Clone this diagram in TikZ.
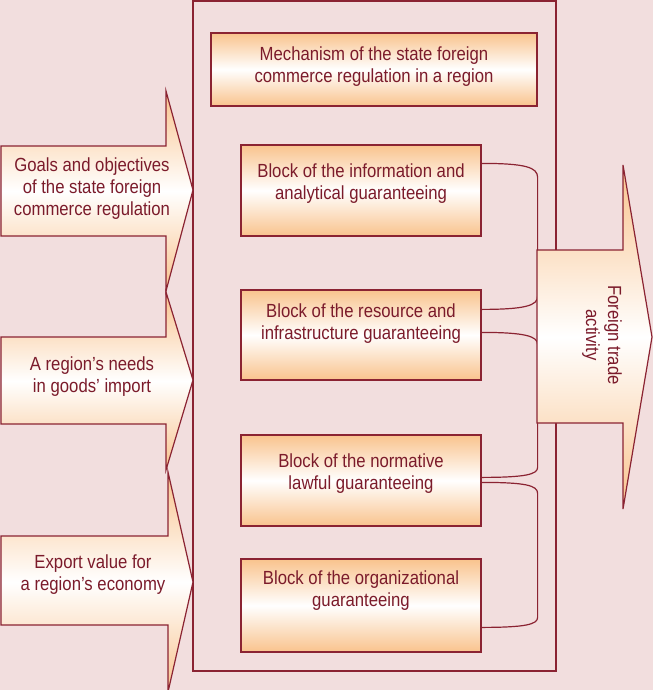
\documentclass[tikz,border=0pt]{standalone}
\usepackage{fontspec}
\setmainfont{Liberation Sans}[FakeStretch=0.88]
\definecolor{bg}{HTML}{F2DEDE}
\definecolor{ln}{HTML}{8B2332}
\definecolor{tx}{HTML}{7B1B2B}
\definecolor{orng}{HTML}{F9C38D}
\tikzset{
  lbl/.style={text=tx, align=center, inner sep=0, font=\fontsize{19}{22}\selectfont},
  blockbox/.style={draw=ln, line width=1.2pt, inner sep=0, minimum width=240, top color=orng, bottom color=orng, middle color=white},
  arrowshape/.style={draw=ln, line width=1.2pt, line join=miter, top color=orng, bottom color=orng, middle color=white},
  conn/.style={draw=ln, line width=1.2pt},
}
\begin{document}
\begin{tikzpicture}[x=1pt,y=-1pt]
\useasboundingbox (0,0) rectangle (653,690);
\fill[bg] (0,0) rectangle (653,690);
% frame
\draw[conn] (193,1) rectangle (556,671);
% title box
\node[blockbox, minimum width=326, minimum height=73] (title) at (374,69.5) {};
\node[lbl] (titletext) at (374,67) {Mechanism of the state foreign\\commerce regulation in a region};
% blocks
\node[blockbox, minimum height=91] (b1) at (361,190.5) {};
\node[blockbox, minimum height=90] (b2) at (361,335) {};
\node[blockbox, minimum height=91] (b3) at (361,480.5) {};
\node[blockbox, minimum height=93] (b4) at (361,605.5) {};
\node[lbl] (t1) at (361,184) {Block of the information and\\analytical guaranteeing};
\node[lbl] (t2) at (361,324) {Block of the resource and\\infrastructure guaranteeing};
\node[lbl] (t3) at (361,474) {Block of the normative\\lawful guaranteeing};
\node[lbl] (t4) at (361,591) {Block of the organizational\\guaranteeing};
% connectors
\draw[conn] ([shift={(0,19)}]b1.north east) .. controls ([shift={(44,19)}]b1.north east) and ([shift={(56,23)}]b1.north east) .. ([shift={(56,33)}]b1.north east)
  -- ([shift={(56,7)}]b2.north east) .. controls ([shift={(56,16)}]b2.north east) and ([shift={(44,20)}]b2.north east) .. ([shift={(0,20)}]b2.north east);
\draw[conn] ([shift={(0,43)}]b2.north east) .. controls ([shift={(44,43)}]b2.north east) and ([shift={(56,47)}]b2.north east) .. ([shift={(56,55)}]b2.north east)
  -- ([shift={(56,33)}]b3.north east) .. controls ([shift={(56,40)}]b3.north east) and ([shift={(44,43)}]b3.north east) .. ([shift={(0,43)}]b3.north east);
\draw[conn] ([shift={(0,48)}]b3.north east) .. controls ([shift={(44,48)}]b3.north east) and ([shift={(56,51)}]b3.north east) .. ([shift={(56,59)}]b3.north east)
  -- ([shift={(56,59)}]b4.north east) .. controls ([shift={(56,66)}]b4.north east) and ([shift={(44,69)}]b4.north east) .. ([shift={(0,69)}]b4.north east);
% left arrows
\path[arrowshape] (1,146) -- (166,146) -- (166,91) -- (193,190) -- (166,291) -- (166,236) -- (1,236) -- cycle;
\path[arrowshape] (1,337) -- (166,337) -- (166,292) -- (193,380) -- (166,470) -- (166,424) -- (1,424) -- cycle;
\path[arrowshape] (1,536) -- (168,536) -- (168,472) -- (193,582) -- (168,692) -- (168,625) -- (1,625) -- cycle;
\node[lbl] (a1) at (92,189) {Goals and objectives\\of the state foreign\\commerce regulation};
\node[lbl] (a2) at (92,377) {A region's needs\\in goods' import};
\node[lbl] (a3) at (93,575) {Export value for\\a region's economy};
% right arrow
\path[arrowshape] (537,250) -- (623,250) -- (623,165) -- (652,337) -- (623,509) -- (623,423) -- (537,423) -- cycle;
\node[lbl, rotate=-90] (r) at (602,335) {Foreign trade\\activity};
\end{tikzpicture}
\end{document}
